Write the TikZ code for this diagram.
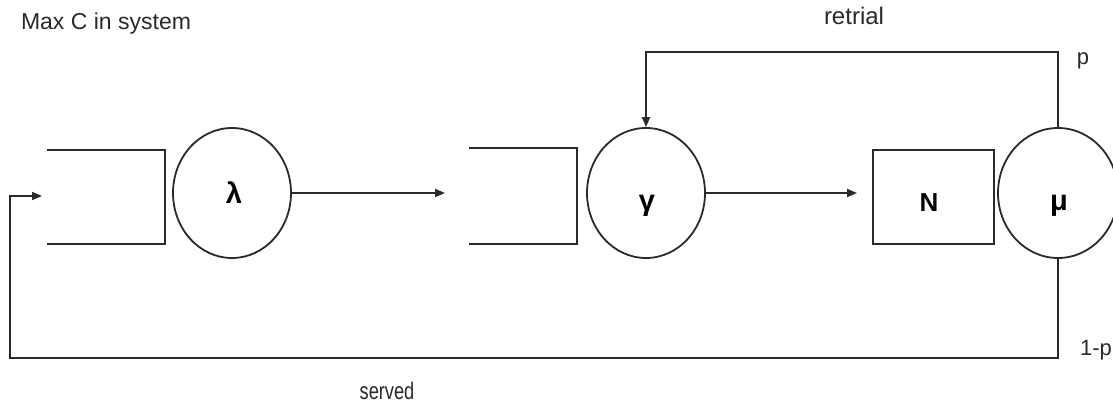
\documentclass[tikz,border=0pt]{standalone}
\usepackage{fontspec}
\setmainfont{Liberation Sans}
\usetikzlibrary{shapes.geometric,arrows.meta}
\definecolor{ink}{HTML}{2A2A2A}
\tikzset{
  lbl/.style={font=\fontsize{22}{26}\selectfont, text=ink, inner sep=0pt},
  greek/.style={font=\fontsize{29}{32}\selectfont\bfseries, text=black, inner sep=0pt, anchor=base},
  server/.style={ellipse, draw=ink, line width=1.8pt, minimum width=118pt, minimum height=130pt, inner sep=0pt},
  buffer/.style={rectangle, inner sep=0pt},
  flow/.style={draw=ink, line width=1.8pt},
  arr/.style={flow, -{Triangle[length=10pt,width=8pt]}}
}
\begin{document}
\begin{tikzpicture}[x=1pt,y=-1pt]
\useasboundingbox (0,0) rectangle (1113,405);

\node[lbl, font=\fontsize{23}{26}\selectfont] (title) at (106,24) {Max C in system};
\node[lbl, font=\fontsize{24}{28}\selectfont] (retr) at (854,16) {retrial};
\node[lbl] (pp) at (1083,61) {p};
\node[lbl] (qp) at (1096,350) {1-p};
\node[lbl, font=\fontsize{24}{28}\selectfont] (srv) at (387,391) {\scalebox{0.76}[1]{served}};

% first waiting line and its server
\node[buffer, minimum width=118pt, minimum height=94pt] (q1) at (106,197) {};
\draw[flow] (q1.north west) -- (q1.north east) -- (q1.south east) -- (q1.south west);
\node[server] (lam) at (232,193) {};
\node[greek] (lamt) at (234,203) {λ};

% orbit and its server
\node[buffer, minimum width=108pt, minimum height=96pt] (q2) at (523,196) {};
\draw[flow] (q2.north west) -- (q2.north east) -- (q2.south east) -- (q2.south west);
\node[server] (gam) at (646,193) {};
\node[greek] (gamt) at (647,210) {γ};

% service station
\node[rectangle, draw=ink, line width=1.8pt, minimum width=121pt, minimum height=94pt] (N) at (933.5,197) {};
\node[font=\fontsize{26}{29}\selectfont\bfseries, inner sep=0pt, anchor=base] (Nt) at (929,211) {N};
\node[server, minimum width=120pt] (mu) at (1058,193) {};
\node[greek] (mut) at (1059,210) {μ};

% connectors
\coordinate (q2in) at (445,193);
\coordinate (Nin) at (857,193);
\coordinate (top) at (1058,52);
\coordinate (br) at (1058,358);
\coordinate (bl) at (10,358);
\coordinate (q1in) at (42,196);

\draw[arr] (lam.east) -- (q2in);
\draw[arr] (gam.east) -- (Nin);
\draw[arr] (mu.north) -- (top) -| (gam.north);
\draw[arr] (mu.south) -- (br) -- (bl) |- (q1in);
\end{tikzpicture}
\end{document}
